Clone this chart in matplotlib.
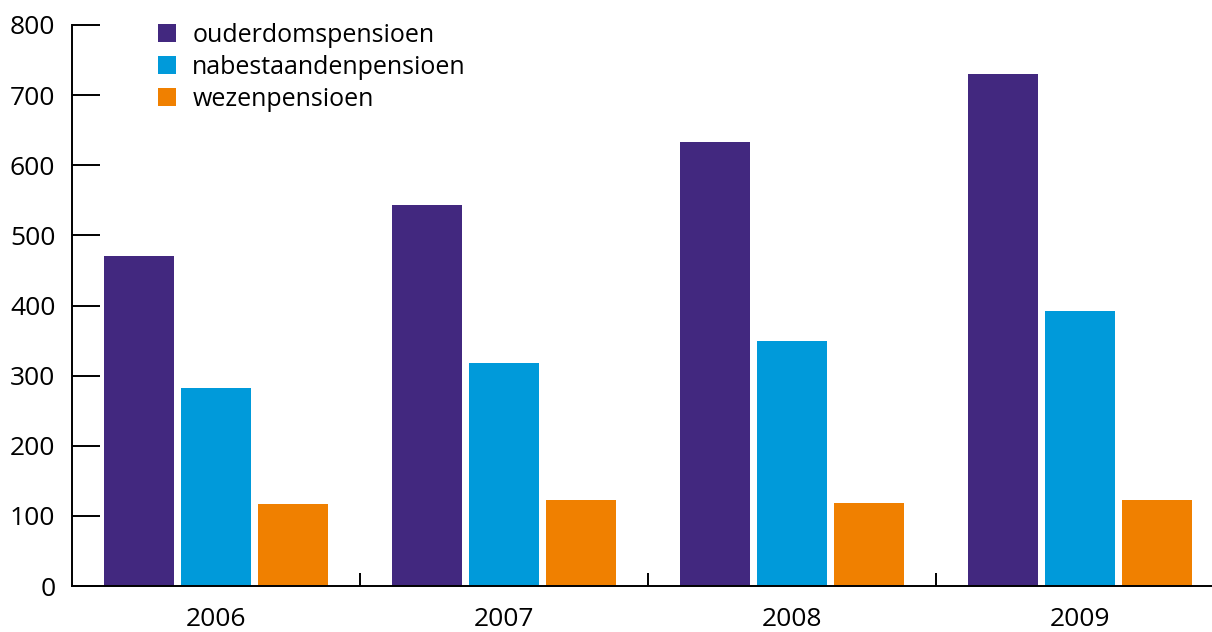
import matplotlib
matplotlib.use("Agg")
import matplotlib.pyplot as plt
import numpy as np

plt.rcParams["font.family"] = ["Open Sans", "DejaVu Sans"]

years = ["2006", "2007", "2008", "2009"]
ouderdom = [471, 543, 633, 730]
nabestaanden = [282, 318, 349, 392]
wezen = [117, 123, 118, 123]

series = [
    ("ouderdomspensioen", ouderdom, "#42287f"),
    ("nabestaandenpensioen", nabestaanden, "#009ada"),
    ("wezenpensioen", wezen, "#f08000"),
]

fig = plt.figure(figsize=(12.12, 6.32), dpi=100)
ax = fig.add_axes([72 / 1212, 46 / 632, 1152 / 1212, 561 / 632])

x = np.arange(len(years))
offset = 0.266
width = 0.243
for i, (name, vals, col) in enumerate(series):
    ax.bar(x + (i - 1) * offset, vals, width, color=col, label=name, zorder=2)

ax.set_xlim(-0.5, len(years) - 0.5)
ax.set_ylim(0, 800)
ax.set_yticks(range(0, 801, 100))

ax.set_xticks(x)
ax.set_xticklabels(years)
ax.set_xticks(x[:-1] + 0.5, minor=True)
ax.tick_params(axis="x", which="major", length=0, pad=15, labelsize=19)
ax.tick_params(axis="x", which="minor", direction="in", length=9.4, width=1.4)
ax.tick_params(axis="y", direction="in", length=20, width=1.4, pad=12, labelsize=19)

for s in ["top", "right"]:
    ax.spines[s].set_visible(False)
for s in ["left", "bottom"]:
    ax.spines[s].set_linewidth(1.4)

leg = ax.legend(loc="upper left", bbox_to_anchor=(158 / 1212, 1 - 23 / 632),
                bbox_transform=fig.transFigure, frameon=False, fontsize=18,
                handlelength=0.72, handleheight=0.72, handletextpad=0.65,
                labelspacing=0.28, borderpad=0, borderaxespad=0)

fig.savefig("out.png", dpi=100)
